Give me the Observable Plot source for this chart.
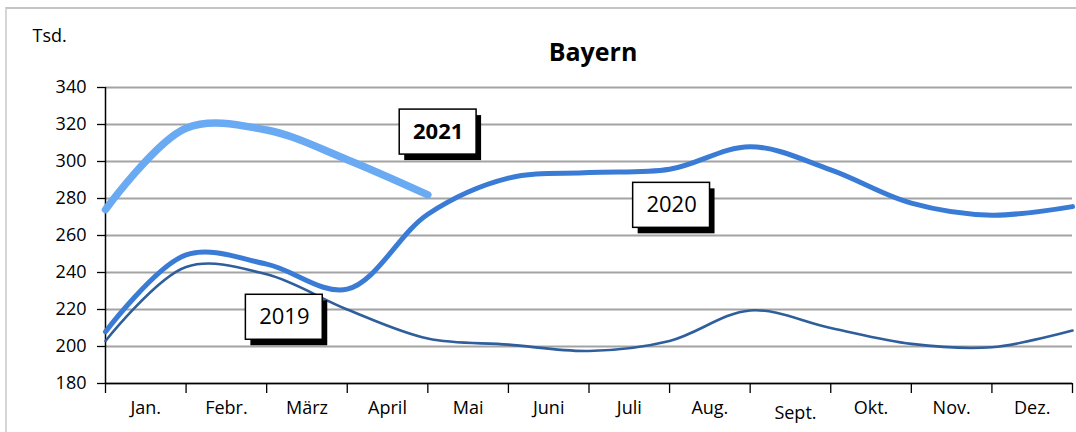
<!DOCTYPE html>
<html><head><meta charset="utf-8">
<script src="https://cdn.jsdelivr.net/npm/d3@7"></script>
<script src="https://cdn.jsdelivr.net/npm/@observablehq/plot@0.6"></script>
<style>
body{margin:0;background:#fff;}
#wrap{position:relative;width:1076px;height:432px;overflow:hidden;}
#border{position:absolute;left:5px;top:7px;width:1200px;height:600px;border-left:2px solid #d6d6d6;border-top:2px solid #c4c4c4;pointer-events:none;}
</style></head><body><div id="wrap"><div id="border"></div></div>
<script>
// ---- data ----
const months = ["Jan.","Febr.","März","April","Mai","Juni","Juli","Aug.","Sept.","Okt.","Nov.","Dez."];
const yTicks = [180, 200, 220, 240, 260, 280, 300, 320, 340];
const years = ["2019", "2020", "2021"];
const values2019 = [203, 243, 239, 220, 204.3, 201, 197.6, 203, 219.5, 210, 201.4, 199.6, 208.6];
const values2020 = [208, 249.5, 244.5, 231, 271.5, 291, 294, 295.8, 308, 295.5, 277.5, 271, 275.6];
const values2021 = [274, 318, 317, 301, 282];
const title = "Bayern";
const unit = "Tsd.";

// ---- build table ----
const series = {"2019": values2019, "2020": values2020, "2021": values2021};
const rows = years.flatMap(y => series[y].map((v, i) => ({year: y, i, v})));
const tickIdx = d3.range(values2019.length);

// annotation boxes (centre in data units)
const notes = [
  {year: "2019", x: 2.219, y: 215.8, bold: false},
  {year: "2020", x: 7.025, y: 276.3, bold: false},
  {year: "2021", x: 4.128, y: 315.9, bold: true}
];
const hw = 0.477, hh = 12.16;

const font = "'Open Sans', sans-serif";
const colors = {"2019": "#2f5e9d", "2020": "#3a7bd5", "2021": "#6aaaf3"};
const widths = {"2019": 2.6, "2020": 5, "2021": 7.5};

const chart = Plot.plot({
  width: 1076,
  height: 432,
  marginLeft: 105,
  marginRight: 4,
  marginTop: 87,
  marginBottom: 49,
  style: {fontFamily: font, background: "transparent", overflow: "visible"},
  x: {type: "linear", domain: [0, 12], axis: null},
  y: {domain: [180, 340], axis: null},
  marks: [
    Plot.ruleY(yTicks, {stroke: "#a3a3a3", strokeWidth: 2}),
    Plot.axisY({ticks: yTicks, tickSize: 8, tickPadding: 11, fontSize: 18, stroke: "black", strokeWidth: 1.3, label: null, color: "black"}),
    Plot.axisX({ticks: tickIdx, tickSize: 10, tickFormat: () => "", stroke: "black", strokeWidth: 1.3, label: null}),
    Plot.ruleX([0], {stroke: "black", strokeWidth: 1.5}),
    Plot.ruleY([180], {stroke: "black", strokeWidth: 1.5}),
    Plot.text(months, {x: (d, i) => i + 0.5, frameAnchor: "bottom", lineAnchor: "middle", dy: 25, fontSize: 18, fill: "black",
      filter: d => d !== "Sept."}),
    Plot.text(months, {x: (d, i) => i + 0.5, frameAnchor: "bottom", lineAnchor: "middle", dy: 30, dx: 5, fontSize: 18, fill: "black",
      filter: d => d === "Sept."}),
    ...years.map(yr => Plot.line(rows.filter(r => r.year === yr), {
      x: "i", y: "v", curve: "catmull-rom", stroke: colors[yr], strokeWidth: widths[yr],
      strokeLinecap: "round", strokeLinejoin: "round"
    })),
    Plot.rect(notes, {x1: d => d.x - hw, x2: d => d.x + hw, y1: d => d.y - hh, y2: d => d.y + hh,
      fill: "black", dx: 5, dy: 6}),
    Plot.rect(notes, {x1: d => d.x - hw, x2: d => d.x + hw, y1: d => d.y - hh, y2: d => d.y + hh,
      fill: "white", stroke: "black", strokeWidth: 1.5}),
    Plot.text(notes.filter(d => !d.bold), {x: "x", y: "y", text: "year", fontSize: 22, fill: "black"}),
    Plot.text(notes.filter(d => d.bold), {x: "x", y: "y", text: "year", fontSize: 22, fontWeight: "bold", fill: "black"}),
    Plot.text([title], {frameAnchor: "top", lineAnchor: "middle", dy: -35, dx: 4, fontSize: 25, fontWeight: "bold", fill: "black"}),
    Plot.text([unit], {frameAnchor: "top-left", lineAnchor: "middle", dx: -73, dy: -51, textAnchor: "start", fontSize: 18, fill: "black"})
  ]
});
document.getElementById("wrap").prepend(chart);
</script>
</body></html>
